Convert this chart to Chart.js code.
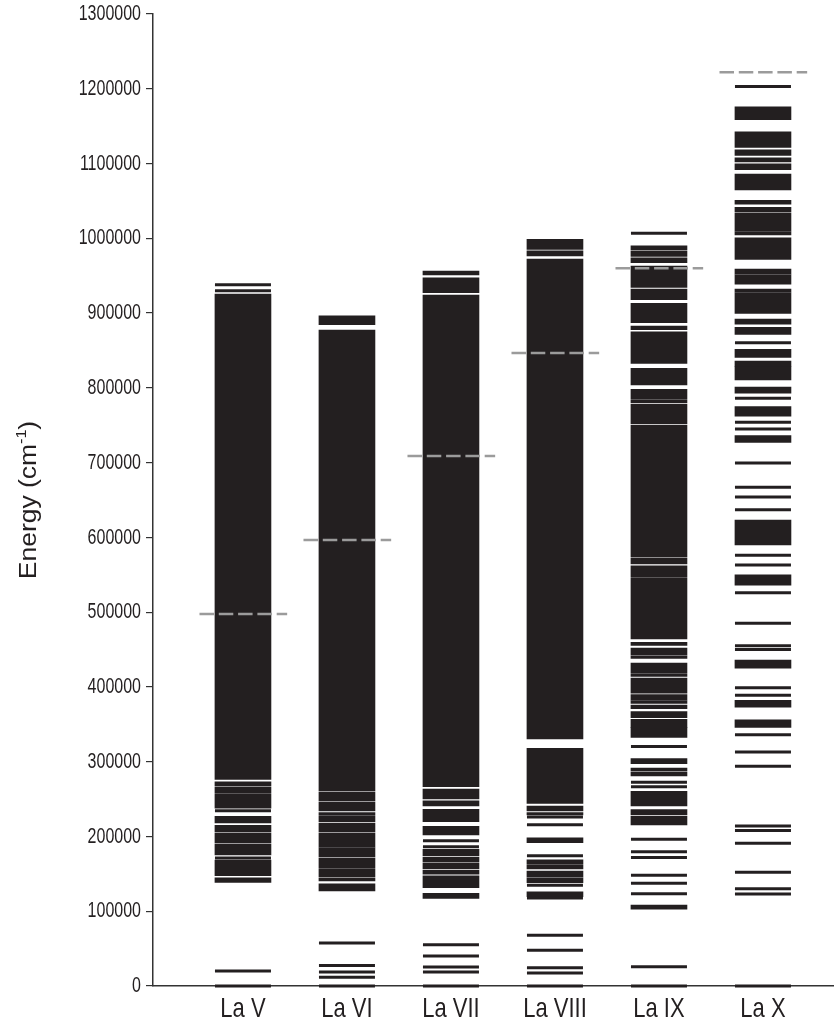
<!DOCTYPE html>
<html>
<head>
<meta charset="utf-8">
<script src="https://cdn.jsdelivr.net/npm/chart.js@4/dist/chart.umd.min.js"></script>
<style>
  html, body { margin: 0; padding: 0; background: #ffffff; }
  #wrap { width: 834px; height: 1029px; }
</style>
</head>
<body>
<div id="wrap"><canvas id="levels"></canvas></div>
<script>
// Ions shown along the x axis
const ions = ['La V', 'La VI', 'La VII', 'La VIII', 'La IX', 'La X'];

// Ionization limits (cm-1), drawn as dashed grey lines
const ionizationLimits = [497500, 596500, 708800, 846600, 960000, 1222000];

// Y-axis ticks (cm-1)
const energyTicks = [0, 100000, 200000, 300000, 400000, 500000, 600000,
  700000, 800000, 900000, 1000000, 1100000, 1200000, 1300000];

// Dense groups of levels, given as [lowest, highest] energy (cm-1)
const laV_bands = [
  [276400, 925500], [267900, 273200], [257700, 266500], [237700, 256400],
  [218000, 227000], [206000, 214900], [191200, 204600], [175200, 189900],
  [147500, 168500], [138700, 144800]
];
const laVI_bands = [
  [884400, 896400], [260800, 877300], [247400, 259500], [234000, 246100],
  [228300, 231800], [219300, 227000], [206000, 217600], [185500, 204600],
  [181000, 184600], [172500, 180100], [157400, 171200], [146200, 156100],
  [140400, 144800], [127000, 136800]
];
const laVII_bands = [
  [950900, 956200], [927200, 947300], [266500, 924100], [250100, 263500],
  [240700, 247800], [219700, 236300], [202000, 213600], [173900, 182800],
  [166300, 172100], [156900, 164900], [149400, 155100], [131500, 147500],
  [117300, 124000]
];
const laVIII_bands = [
  [985200, 998600], [976300, 983400], [330300, 972300], [244300, 317900],
  [234000, 240700], [228700, 231800], [191600, 198300], [162700, 168900],
  [156500, 161400], [145400, 153800], [138200, 144400], [119400, 126100]
];
const laIX_bands = [
  [984700, 990100], [975900, 983400], [967400, 974000], [934400, 962900],
  [917900, 932200], [887100, 913100], [877700, 882700], [832800, 875000],
  [803800, 826100], [784600, 798000], [780100, 783300], [752000, 778400],
  [574200, 750300], [564400, 572800], [547400, 562100], [464100, 546100],
  [455600, 459700], [442700, 452000], [438100, 441700], [419000, 432000],
  [414200, 417700], [391500, 411900], [382500, 389600], [378100, 381600],
  [370900, 375800], [358800, 366900], [346000, 356700], [332600, 346000],
  [297300, 304000], [288000, 291600], [280900, 286600], [240700, 260400],
  [229100, 235800], [215300, 227400], [102600, 108300]
];
const laX_bands = [
  [1166600, 1176000], [1158600, 1165800], [1121700, 1142500], [1110900, 1118500],
  [1102000, 1107800], [1091700, 1099700], [1064600, 1086000], [1045800, 1050800],
  [1035100, 1041400], [1009300, 1033400], [1004400, 1008400], [971900, 1000800],
  [952200, 958900], [938500, 951300], [927700, 932200], [899600, 926800],
  [885000, 892000], [871600, 881000], [840800, 851500], [828200, 835900],
  [810500, 828200], [793000, 801000], [762000, 775000], [727000, 736000],
  [590000, 623000], [536000, 550000], [425000, 436000], [373000, 382000],
  [346000, 356000]
];

// Isolated levels (cm-1)
const laV_levels = [937900, 929700, 234500, 171200, 20100, 0];
const laVI_levels = [57500, 27400, 18700, 11600, 0];
const laVII_levels = [194300, 186200, 55200, 40100, 25400, 18700, 0];
const laVIII_levels = [226000, 215700, 174300, 134700, 117700, 67800, 47700,
  24300, 17400, 0];
const laIX_levels = [1006800, 320300, 272400, 266500, 196200, 179600, 171700,
  148000, 137500, 123500, 25800, 0];
const laX_levels = [1203000, 860400, 786000, 754000, 745000, 699500, 667000,
  654000, 637000, 576000, 563000, 526000, 485000, 455000, 450000, 399000,
  389000, 336000, 313000, 294000, 214000, 208000, 191000, 152000, 130000,
  123000, 0];

const allBands = [laV_bands, laVI_bands, laVII_bands, laVIII_bands, laIX_bands, laX_bands];
const allLevels = [laV_levels, laVI_levels, laVII_levels, laVIII_levels, laIX_levels, laX_levels];

const ink = '#231f20';
const limitGrey = '#9b9b9b';
const fontFamily = '"Liberation Sans", Arial, sans-serif';

const bandData = [];
allBands.forEach((bands, i) => bands.forEach(b => bandData.push({ x: i + 1, y: b })));

const levelData = [];
allLevels.forEach((lv, i) => lv.forEach(e => levelData.push({ x: i + 1, y: e })));

// each limit is a short dashed segment across its ion column, broken by a gap
const limitData = [];
ionizationLimits.forEach((e, i) => {
  limitData.push({ x: i + 1 - 0.418, y: e });
  limitData.push({ x: i + 1 + 0.425, y: e });
  limitData.push({ x: i + 1.5, y: null });
});

// tick labels and the rotated axis title, drawn with tall lettering
const axisText = {
  id: 'axisText',
  afterDraw(chart) {
    const { ctx, chartArea, scales } = chart;
    ctx.save();
    ctx.fillStyle = ink;

    // y tick labels
    ctx.font = '16px ' + fontFamily;
    ctx.textAlign = 'right';
    ctx.textBaseline = 'middle';
    energyTicks.forEach(v => {
      const y = scales.y.getPixelForValue(v);
      ctx.save();
      ctx.translate(141, y);
      ctx.scale(1, 1.4);
      ctx.fillText(String(v), 0, 0);
      ctx.restore();
    });

    // x tick labels
    ctx.font = '22px ' + fontFamily;
    ctx.textAlign = 'center';
    ions.forEach((name, i) => {
      const x = scales.x.getPixelForValue(i + 1);
      ctx.save();
      ctx.translate(x, 1009);
      ctx.scale(1, 1.25);
      ctx.fillText(name, 0, 0);
      ctx.restore();
    });

    // y-axis title with superscript
    const main = '23px ' + fontFamily;
    const sup = '14px ' + fontFamily;
    ctx.font = main;
    const w1 = ctx.measureText('Energy (cm').width;
    const w3 = ctx.measureText(')').width;
    ctx.font = sup;
    const w2 = ctx.measureText('-1').width;
    const total = w1 + w2 + w3;
    ctx.translate(30, (chartArea.top + chartArea.bottom) / 2);
    ctx.rotate(-Math.PI / 2);
    ctx.scale(1.15, 1);
    ctx.textBaseline = 'middle';
    ctx.textAlign = 'left';
    let x = -total / 2;
    ctx.font = main;
    ctx.fillText('Energy (cm', x, 0);
    x += w1;
    ctx.font = sup;
    ctx.fillText('-1', x, -8);
    x += w2;
    ctx.font = main;
    ctx.fillText(')', x, 0);
    ctx.restore();
  }
};

new Chart(document.getElementById('levels'), {
  type: 'bar',
  data: {
    datasets: [
      {
        type: 'line',
        data: limitData,
        borderColor: limitGrey,
        borderWidth: 2.6,
        borderDash: [14.5, 4.8],
        pointRadius: 0,
        spanGaps: false,
        order: 0
      },
      {
        type: 'scatter',
        data: levelData,
        pointStyle: 'line',
        pointRadius: 28,
        pointHoverRadius: 28,
        borderColor: ink,
        borderWidth: 3,
        clip: false,
        order: 1
      },
      {
        type: 'bar',
        data: bandData,
        backgroundColor: ink,
        borderWidth: 0,
        barThickness: 56,
        grouped: false,
        order: 2
      }
    ]
  },
  options: {
    responsive: true,
    maintainAspectRatio: false,
    animation: false,
    events: [],
    layout: { autoPadding: false, padding: { top: 14, right: 0, bottom: 0, left: 0 } },
    plugins: { legend: { display: false }, tooltip: { enabled: false } },
    scales: {
      x: {
        type: 'linear',
        offset: false,
        min: 0.135,
        max: 6.683,
        afterBuildTicks(scale) { scale.ticks = ions.map((_, i) => ({ value: i + 1 })); },
        afterFit(scale) {
          scale.height = 43;
          scale.paddingLeft = 0; scale.paddingRight = 0;
        },
        grid: { display: false, offset: false },
        border: { display: true, color: '#333333', width: 1.5 },
        ticks: { display: false }
      },
      y: {
        min: 0,
        max: 1300000,
        afterBuildTicks(scale) { scale.ticks = energyTicks.map(v => ({ value: v })); },
        afterFit(scale) {
          scale.width = 153;
          scale.paddingTop = 0; scale.paddingBottom = 0;
        },
        grid: { drawOnChartArea: false, drawTicks: true, tickLength: 7, color: '#333333', lineWidth: 1.2 },
        border: { display: true, color: '#333333', width: 1.5 },
        ticks: { display: false }
      }
    }
  },
  plugins: [axisText]
});
</script>
</body>
</html>
